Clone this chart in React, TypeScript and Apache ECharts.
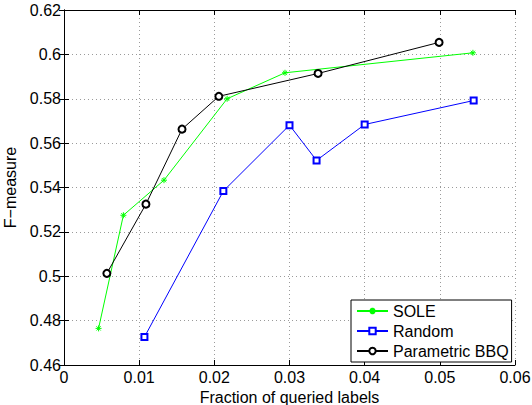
import React, { useEffect, useRef } from "react";
import * as echarts from "echarts";

const soleX = [0.0046, 0.0079, 0.0133, 0.0217, 0.0294, 0.0544];
const soleY = [0.4765, 0.5275, 0.5433, 0.5800, 0.5917, 0.6007];
const randomX = [0.0107, 0.0212, 0.0300, 0.0336, 0.0400, 0.0545];
const randomY = [0.4726, 0.5384, 0.5681, 0.5522, 0.5684, 0.5792];
const bbqX = [0.0057, 0.0109, 0.0157, 0.0206, 0.0338, 0.0499];
const bbqY = [0.5013, 0.5325, 0.5663, 0.5811, 0.5914, 0.6054];

const seriesNames = ["SOLE", "Random", "Parametric BBQ"];

const FONT = "'Liberation Sans', Arial, Helvetica, sans-serif";
const asterisk =
  "path://M5,0L5,10M0,5L10,5M1.5,1.5L8.5,8.5M1.5,8.5L8.5,1.5";

function pairs(xs: number[], ys: number[]) {
  return xs.map((x, i) => [x, ys[i]]);
}

export default function App() {
  const ref = useRef<HTMLDivElement>(null);
  useEffect(() => {
    if (!ref.current) return;
    const chart = echarts.init(ref.current, undefined, { renderer: "svg" });
    const gridLine = { show: true, lineStyle: { color: "#9a9a9a", type: [1, 3] as any, width: 1 } };
    const tick = { show: true, inside: true, length: 5, lineStyle: { color: "#000" } };
    const axLine = { show: true, lineStyle: { color: "#000", width: 1 } };
    chart.setOption({
      animation: false,
      backgroundColor: "#fff",
      textStyle: { fontFamily: FONT },
      grid: { left: 64, right: 17, top: 10, bottom: 40, containLabel: false, outerBoundsMode: "none" },
      legend: {
        data: seriesNames,
        orient: "vertical",
        left: 351,
        top: 300,
        padding: [3, 3, 3, 5],
        itemGap: 4,
        itemWidth: 31,
        itemHeight: 8,
        borderColor: "#000",
        borderWidth: 1,
        borderRadius: 0,
        backgroundColor: "#fff",
        textStyle: { fontSize: 16, color: "#000", fontFamily: FONT },
      },
      xAxis: [
        {
          type: "value",
          min: 0,
          max: 0.06,
          interval: 0.01,
          name: "Fraction of queried labels",
          nameLocation: "middle",
          nameGap: 20,
          nameTextStyle: { fontSize: 16, color: "#000", fontFamily: FONT },
          axisLine: axLine,
          axisTick: tick,
          splitLine: gridLine,
          axisLabel: { fontSize: 16, color: "#000", margin: 4, fontFamily: FONT },
        },
        {
          type: "value",
          position: "top",
          min: 0,
          max: 0.06,
          interval: 0.01,
          axisLine: axLine,
          axisTick: tick,
          splitLine: { show: false },
          axisLabel: { show: false },
        },
      ],
      yAxis: [
        {
          type: "value",
          min: 0.46,
          max: 0.62,
          interval: 0.02,
          name: "F−measure",
          nameLocation: "middle",
          nameGap: 36,
          nameTextStyle: { fontSize: 16, color: "#000", fontFamily: FONT },
          axisLine: axLine,
          axisTick: tick,
          splitLine: gridLine,
          axisLabel: { fontSize: 16, color: "#000", margin: 3, fontFamily: FONT },
        },
        {
          type: "value",
          position: "right",
          min: 0.46,
          max: 0.62,
          interval: 0.02,
          axisLine: axLine,
          axisTick: tick,
          splitLine: { show: false },
          axisLabel: { show: false },
        },
      ],
      series: [
        {
          name: seriesNames[0],
          type: "line",
          data: pairs(soleX, soleY),
          symbol: asterisk,
          symbolSize: 6,
          lineStyle: { color: "#00ff00", width: 1 },
          itemStyle: { color: "#00ff00", borderColor: "#00ff00", borderWidth: 1 },
        },
        {
          name: seriesNames[1],
          type: "line",
          data: pairs(randomX, randomY),
          symbol: "emptyRect",
          symbolSize: 6,
          lineStyle: { color: "#0000ff", width: 1 },
          itemStyle: { color: "#0000ff", borderColor: "#0000ff", borderWidth: 0.8 },
        },
        {
          name: seriesNames[2],
          type: "line",
          data: pairs(bbqX, bbqY),
          symbol: "emptyCircle",
          symbolSize: 7,
          lineStyle: { color: "#000", width: 1 },
          itemStyle: { color: "#000", borderColor: "#000", borderWidth: 0.8 },
        },
      ],
    });
    return () => chart.dispose();
  }, []);
  return <div ref={ref} style={{ width: 532, height: 405, position: "absolute", left: 0, top: 0 }} />;
}
